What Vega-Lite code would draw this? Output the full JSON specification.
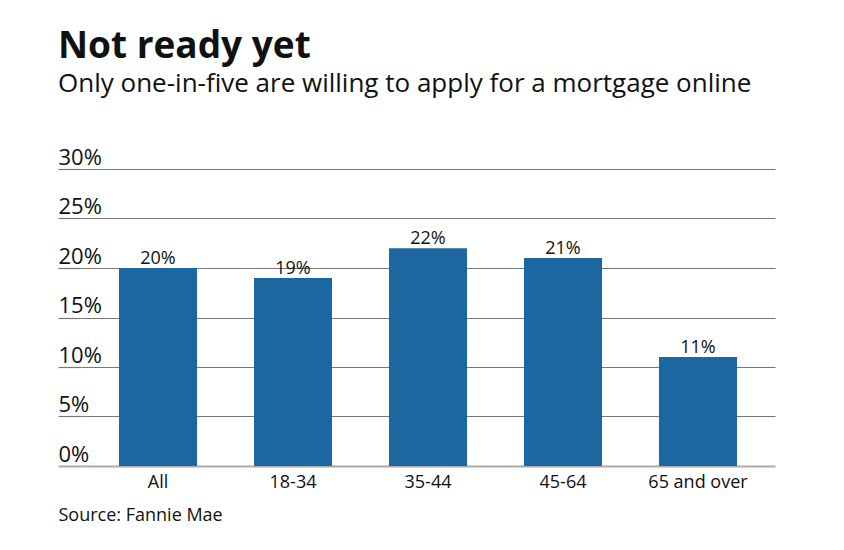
{
  "$schema": "https://vega.github.io/schema/vega-lite/v6.json",
  "width": 694,
  "height": 297,
  "autosize": "none",
  "padding": {"left": 81, "top": 169, "right": 69, "bottom": 84},
  "background": "white",
  "title": {
    "text": "Not ready yet",
    "subtitle": "Only one-in-five are willing to apply for a mortgage online",
    "anchor": "start",
    "frame": "group",
    "dx": -23,
    "offset": 48,
    "font": "Open Sans",
    "fontSize": 37,
    "fontWeight": "bold",
    "color": "#111111",
    "subtitleFont": "Open Sans",
    "subtitleFontSize": 26,
    "subtitleColor": "#111111",
    "subtitlePadding": 5
  },
  "data": {
    "values": [
      {"group": "All", "value": 0.20},
      {"group": "18-34", "value": 0.19},
      {"group": "35-44", "value": 0.22},
      {"group": "45-64", "value": 0.21},
      {"group": "65 and over", "value": 0.11}
    ]
  },
  "encoding": {
    "x": {
      "field": "group",
      "type": "nominal",
      "sort": null,
      "scale": {"paddingInner": 0.422, "paddingOuter": 0.2815},
      "axis": {
        "domain": false,
        "ticks": false,
        "labelAngle": 0,
        "labelPadding": 7,
        "labelFont": "Open Sans",
        "labelFontSize": 18,
        "labelColor": "#111111",
        "title": "Source: Fannie Mae",
        "titleAnchor": "start",
        "titleAlign": "left",
        "titleBaseline": "alphabetic",
        "titleX": -23,
        "titleY": 54,
        "titleFont": "Open Sans",
        "titleFontSize": 18,
        "titleFontWeight": "normal",
        "titleColor": "#111111"
      }
    },
    "y": {
      "field": "value",
      "type": "quantitative",
      "scale": {"domain": [0, 0.3], "nice": false},
      "axis": {
        "values": [0, 0.05, 0.1, 0.15, 0.2, 0.25, 0.3],
        "format": ".0%",
        "domain": false,
        "tickSize": 23,
        "tickColor": {"condition": {"test": "datum.value === 0", "value": "#aaaaaa"}, "value": "#777777"},
        "tickWidth": {"condition": {"test": "datum.value === 0", "value": 2}, "value": 1.2},
        "gridColor": {"condition": {"test": "datum.value === 0", "value": "#aaaaaa"}, "value": "#777777"},
        "gridWidth": {"condition": {"test": "datum.value === 0", "value": 2}, "value": 1.2},
        "gridOpacity": 1,
        "labelAlign": "left",
        "labelPadding": 0,
        "labelBaseline": "alphabetic",
        "labelOffset": -5,
        "labelFont": "Open Sans",
        "labelFontSize": 22,
        "labelColor": "#111111",
        "title": null
      }
    }
  },
  "layer": [
    {"mark": {"type": "bar", "color": "#1c67a0"}},
    {
      "mark": {"type": "text", "baseline": "alphabetic", "dy": -4, "font": "Open Sans", "fontSize": 18, "color": "#111111"},
      "encoding": {"text": {"field": "value", "type": "quantitative", "format": ".0%"}}
    }
  ],
  "config": {"view": {"stroke": null}}
}
